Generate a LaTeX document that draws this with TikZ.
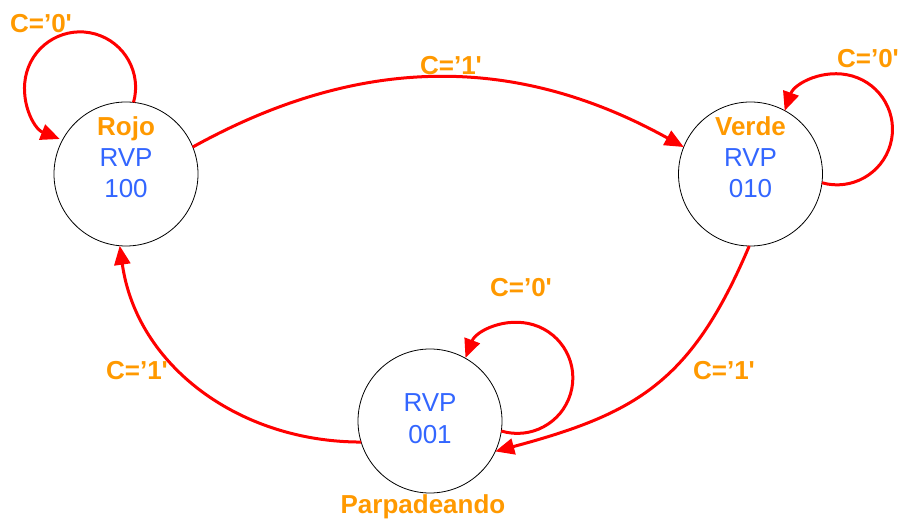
\documentclass[tikz,border=0pt]{standalone}
\usepackage{fontspec}
\setmainfont{Liberation Sans}
\usetikzlibrary{arrows.meta}
\definecolor{stateorange}{RGB}{255,153,0}
\definecolor{outblue}{RGB}{51,102,255}
\definecolor{edgered}{RGB}{255,0,0}
\begin{document}
\begin{tikzpicture}[x=1pt,y=1pt,
  state/.style={circle,draw=black,line width=0.8pt,minimum size=144pt,inner sep=0pt,outer sep=0pt},
  statename/.style={text=stateorange,font=\fontsize{26}{31}\selectfont\bfseries,inner sep=0pt,anchor=base},
  outbits/.style={text=outblue,font=\fontsize{26}{31}\selectfont,inner sep=0pt,anchor=base},
  cond/.style={text=stateorange,font=\fontsize{26}{31}\selectfont\bfseries,inner sep=0pt,anchor=base},
  edge/.style={draw=edgered,line width=3pt,-{Triangle[length=19pt,width=16pt]}}]
\useasboundingbox (0,0) rectangle (901,519);

% states
\node[state] (rojo)  at (126,345) {};
\node[state] (verde) at (750.5,345) {};
\node[state] (parp)  at (430,98) {};

% texts inside the states
\node[statename] (rojoname) at ([yshift=38pt]rojo.center) {Rojo};
\node[outbits] (rojorvp) at ([yshift=7pt]rojo.center) {RVP};
\node[outbits] (rojobits) at ([yshift=-24pt]rojo.center) {100};

\node[statename] (verdename) at ([yshift=38pt]verde.center) {Verde};
\node[outbits] (verdervp) at ([yshift=7pt]verde.center) {RVP};
\node[outbits] (verdebits) at ([yshift=-24pt]verde.center) {010};

\node[outbits] (parprvp) at ([yshift=9pt]parp.center) {RVP};
\node[outbits] (parpbits) at ([yshift=-23pt]parp.center) {001};
\node[statename] (parpname) at (423,6) {Parpadeando};

% transitions
\draw[edge] (rojo.84) arc[start angle=-15.7, end angle=248.5, radius=55.5];
\draw[edge] (verde.-7) arc[start angle=-105.7, end angle=160.5, radius=55.5];
\draw[edge] (parp.-8) arc[start angle=-106.8, end angle=159.1, radius=55.5];
\draw[edge] (rojo.22.8) to[bend left=29] (verde.158.8);
\draw[edge] (verde.-91) to[out=-113,in=15,looseness=1.15] (parp.-25.9);
\draw[edge] (parp.197.3) to[out=180,in=-82] (rojo.-95.3);

% transition conditions
\node[cond] (c00) at (41,486) {C=’0\textquotesingle};
\node[cond] (c11) at (451,444) {C=’1\textquotesingle};
\node[cond] (c22) at (868,451.7) {C=’0\textquotesingle};
\node[cond] (c33) at (521,222) {C=’0\textquotesingle};
\node[cond] (c44) at (137,139) {C=’1\textquotesingle};
\node[cond] (c55) at (724,139) {C=’1\textquotesingle};
\end{tikzpicture}
\end{document}
